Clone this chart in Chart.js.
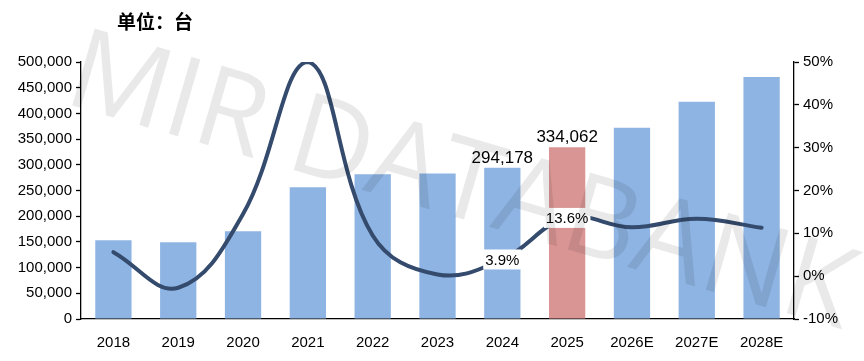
<!DOCTYPE html>
<html>
<head>
<meta charset="utf-8">
<script src="https://cdn.jsdelivr.net/npm/chart.js@4.4.1/dist/chart.umd.min.js"></script>
<style>
  html, body { margin: 0; padding: 0; background: #fff; }
  #wrap { width: 864px; height: 361px; position: relative; }
</style>
</head>
<body>
<div id="wrap"><canvas id="chart"></canvas></div>
<script>
// ====== Data ======
const years = ['2018', '2019', '2020', '2021', '2022', '2023', '2024', '2025', '2026E', '2027E', '2028E'];
const units = [153000, 149300, 170500, 256400, 281500, 283100, 294178, 334062, 372100, 422500, 470900];
const growth = [0.056, -0.027, 0.145, 0.50, 0.095, 0.004, 0.039, 0.136, 0.114, 0.134, 0.113];
const unitLabels = { 6: '294,178', 7: '334,062' };
const growthLabels = { 6: '3.9%', 7: '13.6%' };
const titleText = '单位：台';
const watermark = 'MIR DATABANK';

const BLUE = '#8EB4E3';
const RED = '#D99594';
const LINE = '#344B6D';
const FONT = "'Liberation Sans', Arial, sans-serif";

// ====== Plugins: labels, title, watermark ======
const extras = {
    id: 'extras',
    afterDatasetsDraw(chart) {
        const ctx = chart.ctx;
        const bars = chart.getDatasetMeta(1).data;
        const pts = chart.getDatasetMeta(0).data;

        ctx.save();
        ctx.fillStyle = '#000';
        ctx.textAlign = 'center';
        ctx.textBaseline = 'bottom';
        ctx.font = `17px ${FONT}`;
        Object.keys(unitLabels).forEach(i => {
            const b = bars[i];
            ctx.fillText(unitLabels[i], b.x, b.y - 1);
        });

        ctx.font = `15px ${FONT}`;
        ctx.textBaseline = 'middle';
        Object.keys(growthLabels).forEach(i => {
            const p = pts[i];
            const w = ctx.measureText(growthLabels[i]).width + 4;
            ctx.fillStyle = '#fff';
            ctx.fillRect(p.x - w / 2, p.y - 10, w, 20);
            ctx.fillStyle = '#000';
            ctx.fillText(growthLabels[i], p.x, p.y + 1);
        });

        // watermark
        ctx.translate(452, 216);
        ctx.rotate(16.2 * Math.PI / 180);
        ctx.font = `100px 'Open Sans', ${FONT}`;
        const tw = ctx.measureText(watermark).width;
        const s = 813 / tw;
        ctx.scale(s, s);
        ctx.fillStyle = 'rgba(0,0,0,0.085)';
        ctx.textBaseline = 'alphabetic';
        ctx.fillText(watermark, 0, 0);
        ctx.restore();
    },
    afterDraw(chart) {
        const ctx = chart.ctx;
        ctx.save();
        ctx.fillStyle = '#000';
        ctx.font = `bold 19px 'Noto Sans CJK SC', sans-serif`;
        ctx.textAlign = 'left';
        ctx.textBaseline = 'middle';
        ctx.fillText(titleText, 117, 22);
        ctx.restore();
    }
};

// ====== Chart ======
const ctx = document.getElementById('chart').getContext('2d');
new Chart(ctx, {
    data: {
        labels: years,
        datasets: [
            {
                type: 'line', label: 'growth', data: growth, yAxisID: 'y1', order: 0,
                borderColor: LINE, borderWidth: 4, tension: 0.4, pointRadius: 0,
                borderCapStyle: 'round', fill: false
            },
            {
                type: 'bar', label: 'units', data: units, yAxisID: 'y', order: 1,
                backgroundColor: years.map((_, i) => i === 7 ? RED : BLUE),
                barPercentage: 0.56, categoryPercentage: 1.0
            }
        ]
    },
    options: {
        responsive: true, maintainAspectRatio: false, animation: false,
        layout: { padding: { top: 62, left: 0, right: 0, bottom: 0 } },
        plugins: { legend: { display: false }, tooltip: { enabled: false } },
        scales: {
            x: {
                grid: { display: false },
                border: { color: '#000', width: 1.3 },
                ticks: { color: '#000', font: { size: 15, family: FONT }, padding: 7 },
                afterFit: s => { s.height = 42; }
            },
            y: {
                position: 'left', min: 0, max: 500000,
                border: { color: '#000', width: 1.3 },
                grid: { drawOnChartArea: false, color: '#000', tickLength: 5, tickWidth: 1.3 },
                ticks: {
                    stepSize: 50000, color: '#000', padding: 4,
                    font: { size: 15, family: FONT },
                    callback: v => v.toLocaleString('en-US')
                },
                afterFit: s => { s.width = 81; }
            },
            y1: {
                position: 'right', min: -0.1, max: 0.5,
                border: { color: '#000', width: 1.3 },
                grid: { drawOnChartArea: false, color: '#000', tickLength: 5, tickWidth: 1.3 },
                ticks: {
                    stepSize: 0.1, color: '#000', padding: 4,
                    font: { size: 15, family: FONT },
                    callback: v => Math.round(v * 100) + '%'
                },
                afterFit: s => { s.width = 70; }
            }
        }
    },
    plugins: [extras]
});
</script>
</body>
</html>
